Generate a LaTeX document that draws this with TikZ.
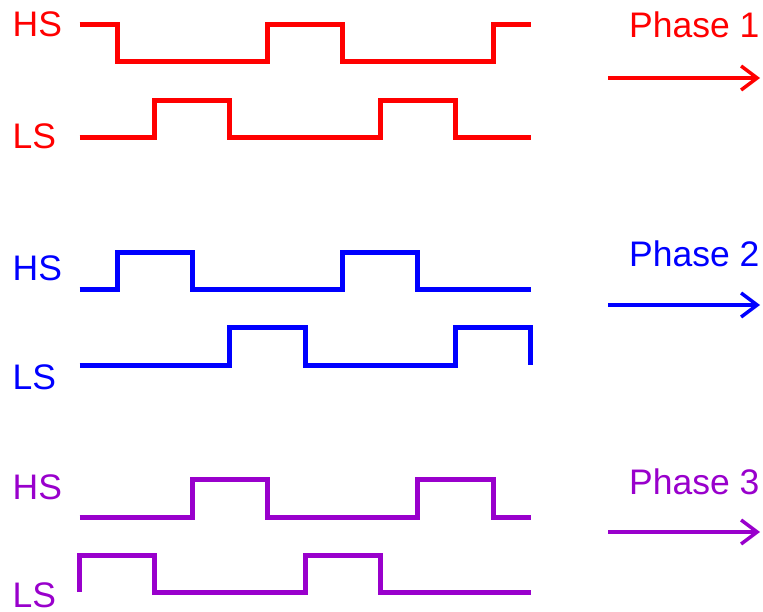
\documentclass[tikz,border=0pt]{standalone}
\usepackage{fontspec}
\setmainfont{Liberation Sans}
\usetikzlibrary{arrows.meta}
\definecolor{pred}{HTML}{FF0000}
\definecolor{pblue}{HTML}{0000FF}
\definecolor{ppurple}{HTML}{9900CC}
\tikzset{
  wave/.style={line width=5pt, line join=miter, line cap=butt},
  lbl/.style={anchor=base west, inner sep=0pt, font=\fontsize{35.5}{42}\selectfont},
  phasearrow/.style={line width=3.5pt, -{Straight Barb[length=16pt, width=24pt, line width=3.5pt]}}
}
\begin{document}
\begin{tikzpicture}[x=1pt,y=-1pt]
\useasboundingbox (0,0) rectangle (763,612);
% ---------- Phase 1 (red) ----------
\node[lbl, text=pred] (hs1) at (12.5,37) {HS};
\node[lbl, text=pred] (ls1) at (12.5,149) {LS};
\node[lbl, text=pred] (ph1) at (629,37.5) {Phase 1};
\draw[wave, pred] (79.5,25) -- (117.1,25) -- (117.1,62) -- (267.5,62) -- (267.5,25) -- (342.7,25) -- (342.7,62) -- (493.1,62) -- (493.1,25) -- (530.7,25);
\draw[wave, pred] (79.5,138) -- (154.7,138) -- (154.7,100.5) -- (229.9,100.5) -- (229.9,138) -- (380.3,138) -- (380.3,100.5) -- (455.5,100.5) -- (455.5,138) -- (530.7,138);
\coordinate (a1s) at (608,78);
\coordinate (a1e) at (760,78);
\draw[phasearrow, pred] (a1s) -- (a1e);
% ---------- Phase 2 (blue) ----------
\node[lbl, text=pblue] (hs2) at (12.5,281) {HS};
\node[lbl, text=pblue] (ls2) at (12.5,389) {LS};
\node[lbl, text=pblue] (ph2) at (629,267) {Phase 2};
\draw[wave, pblue] (79.5,290) -- (117.1,290) -- (117.1,252.5) -- (192.3,252.5) -- (192.3,290) -- (342.7,290) -- (342.7,252.5) -- (417.9,252.5) -- (417.9,290) -- (530.7,290);
\draw[wave, pblue] (79.5,365) -- (229.9,365) -- (229.9,327.5) -- (305.1,327.5) -- (305.1,365) -- (455.5,365) -- (455.5,327.5) -- (530.7,327.5) -- (530.7,365);
\coordinate (a2s) at (608,305);
\coordinate (a2e) at (760,305);
\draw[phasearrow, pblue] (a2s) -- (a2e);
% ---------- Phase 3 (purple) ----------
\node[lbl, text=ppurple] (hs3) at (12.5,499) {HS};
\node[lbl, text=ppurple] (ls3) at (12.5,607.5) {LS};
\node[lbl, text=ppurple] (ph3) at (629,494) {Phase 3};
\draw[wave, ppurple] (79.5,517) -- (192.3,517) -- (192.3,479.5) -- (267.5,479.5) -- (267.5,517) -- (417.9,517) -- (417.9,479.5) -- (493.1,479.5) -- (493.1,517) -- (530.7,517);
\draw[wave, ppurple] (79.5,592) -- (79.5,555) -- (154.7,555) -- (154.7,592) -- (305.1,592) -- (305.1,555) -- (380.3,555) -- (380.3,592) -- (530.7,592);
\coordinate (a3s) at (608,532);
\coordinate (a3e) at (760,532);
\draw[phasearrow, ppurple] (a3s) -- (a3e);
\end{tikzpicture}
\end{document}
